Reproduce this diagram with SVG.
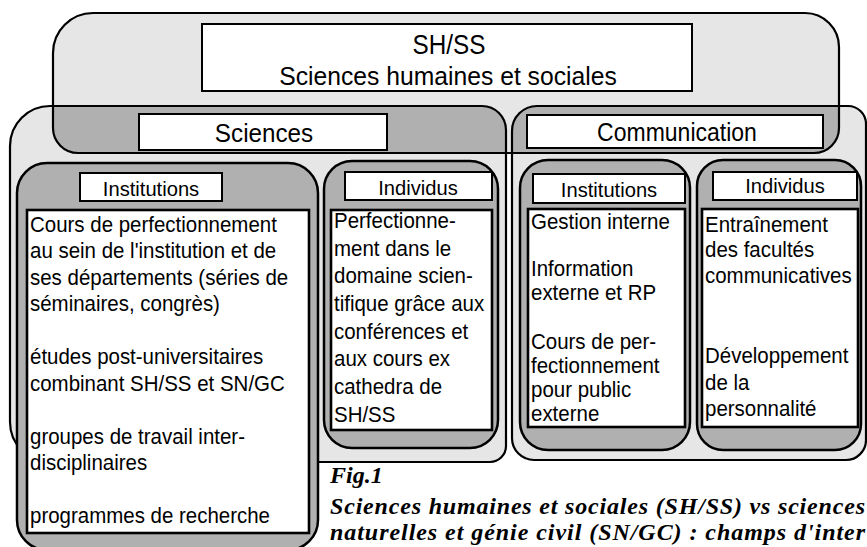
<svg xmlns="http://www.w3.org/2000/svg" width="867" height="547" viewBox="0 0 867 547">
<style>
.light{fill:#e6e6e6;stroke:none}
.dark{fill:#b0b0b0;stroke:none}
.edge{fill:none;stroke:#000;stroke-width:2.2}
.sub{fill:#b0b0b0;stroke:#000;stroke-width:2.5}
.box{fill:#fff;stroke:#000;stroke-width:2}
.cbox{fill:#fff;stroke:#000;stroke-width:2.6}
text{font-family:"Liberation Sans",Arial,sans-serif;fill:#000}
.mid{text-anchor:middle}
.ct{font-size:22.5px}
.cap{font-family:"Liberation Serif","Times New Roman",serif;font-weight:bold;font-style:italic;font-size:24px}
</style>
<defs>
<path id="pShss" d="M93,13 H805 A34,34 0 0 1 839,47 V128 A25,25 0 0 1 814,153 H78 A25,25 0 0 1 53,128 V53 A40,40 0 0 1 93,13 Z"/>
<path id="pSci" d="M50,106 H482 A24,24 0 0 1 506,130 V446 A16,16 0 0 1 490,462 H50 A40,40 0 0 1 10,422 V146 A40,40 0 0 1 50,106 Z"/>
<path id="pCom" d="M537,106 H848 A18,18 0 0 1 866,124 V440 A20,20 0 0 1 846,460 H534 A22,22 0 0 1 512,438 V131 A25,25 0 0 1 537,106 Z"/>
<clipPath id="clipShss"><use href="#pShss"/></clipPath>
</defs>

<g id="backgrounds">
<use href="#pShss" class="light"/>
<use href="#pSci" class="light"/>
<use href="#pCom" class="light"/>
<g clip-path="url(#clipShss)">
<use href="#pSci" class="dark"/>
<use href="#pCom" class="dark"/>
</g>
<use href="#pShss" class="edge"/>
<use href="#pSci" class="edge"/>
<use href="#pCom" class="edge"/>
</g>

<g id="shss">
<rect class="box" x="202" y="24" width="490" height="67"/>
<g transform="translate(449,0) scale(0.9,1)"><text class="mid" x="0" y="54" font-size="27">SH/SS</text></g>
<g transform="translate(448,0) scale(0.95,1)"><text class="mid" x="0" y="85" font-size="26">Sciences humaines et sociales</text></g>
</g>

<g id="sciences">
<rect class="box" x="139" y="114" width="248" height="36"/>
<g transform="translate(264,0) scale(0.95,1)"><text class="mid" x="0" y="142" font-size="25.5">Sciences</text></g>
</g>

<g id="communication">
<rect class="box" x="527" y="115" width="296" height="33"/>
<g transform="translate(677,0) scale(0.92,1)"><text class="mid" x="0" y="141" font-size="25">Communication</text></g>
</g>

<g id="sci-institutions">
<rect class="sub" x="17" y="163" width="301" height="387" rx="30"/>
<rect class="box" x="80" y="173" width="142" height="28"/>
<g transform="translate(151,0) scale(0.96,1)"><text class="mid" x="0" y="196" font-size="21">Institutions</text></g>
<rect class="cbox" x="27" y="210" width="282" height="323"/>
<g transform="translate(30,0) scale(0.91,1)">
<text class="ct" x="0" y="232">Cours de perfectionnement</text>
<text class="ct" x="0" y="258.5">au sein de l'institution et de</text>
<text class="ct" x="0" y="285">ses départements (séries de</text>
<text class="ct" x="0" y="311.5">séminaires, congrès)</text>
<text class="ct" x="0" y="364.5">études post-universitaires</text>
<text class="ct" x="0" y="391">combinant SH/SS et SN/GC</text>
<text class="ct" x="0" y="444">groupes de travail inter-</text>
<text class="ct" x="0" y="470.5">disciplinaires</text>
<text class="ct" x="0" y="523.5">programmes de recherche</text>
</g>
</g>

<g id="sci-individus">
<rect class="sub" x="324" y="161" width="174" height="287" rx="28"/>
<rect class="box" x="345" y="172" width="147" height="28"/>
<g transform="translate(418,0) scale(0.96,1)"><text class="mid" x="0" y="195" font-size="21">Individus</text></g>
<rect class="cbox" x="331" y="210" width="161" height="220"/>
<g transform="translate(334,0) scale(0.91,1)">
<text class="ct" x="0" y="228">Perfectionne-</text>
<text class="ct" x="0" y="256">ment dans le</text>
<text class="ct" x="0" y="283">domaine scien-</text>
<text class="ct" x="0" y="311">tifique grâce aux</text>
<text class="ct" x="0" y="339">conférences et</text>
<text class="ct" x="0" y="366">aux cours ex</text>
<text class="ct" x="0" y="394">cathedra de</text>
<text class="ct" x="0" y="422">SH/SS</text>
</g>
</g>

<g id="com-institutions">
<rect class="sub" x="520" y="160" width="170" height="290" rx="28"/>
<rect class="box" x="533" y="174" width="152" height="29"/>
<g transform="translate(609,0) scale(0.96,1)"><text class="mid" x="0" y="197" font-size="21">Institutions</text></g>
<rect class="cbox" x="528" y="209" width="157" height="218"/>
<g transform="translate(531,0) scale(0.91,1)">
<text class="ct" x="0" y="229">Gestion interne</text>
<text class="ct" x="0" y="276">Information</text>
<text class="ct" x="0" y="300">externe et RP</text>
<text class="ct" x="0" y="349">Cours de per-</text>
<text class="ct" x="0" y="373">fectionnement</text>
<text class="ct" x="0" y="397">pour public</text>
<text class="ct" x="0" y="421">externe</text>
</g>
</g>

<g id="com-individus">
<rect class="sub" x="697" y="160" width="164" height="290" rx="26"/>
<rect class="box" x="713" y="172" width="144" height="28"/>
<g transform="translate(785,0) scale(0.96,1)"><text class="mid" x="0" y="193" font-size="21">Individus</text></g>
<rect class="cbox" x="702" y="209" width="156" height="218"/>
<g transform="translate(705,0) scale(0.91,1)">
<text class="ct" x="0" y="232">Entraînement</text>
<text class="ct" x="0" y="257">des facultés</text>
<text class="ct" x="0" y="283">communicatives</text>
<text class="ct" x="0" y="363">Développement</text>
<text class="ct" x="0" y="390">de la</text>
<text class="ct" x="0" y="416">personnalité</text>
</g>
</g>

<g id="caption">
<text class="cap" x="330" y="483">Fig.1</text>
<text class="cap" x="330" y="514" textLength="535">Sciences humaines et sociales (SH/SS) vs  sciences</text>
<text class="cap" x="330" y="540" textLength="535">naturelles et génie civil (SN/GC) : champs d'inter</text>
</g>
</svg>
